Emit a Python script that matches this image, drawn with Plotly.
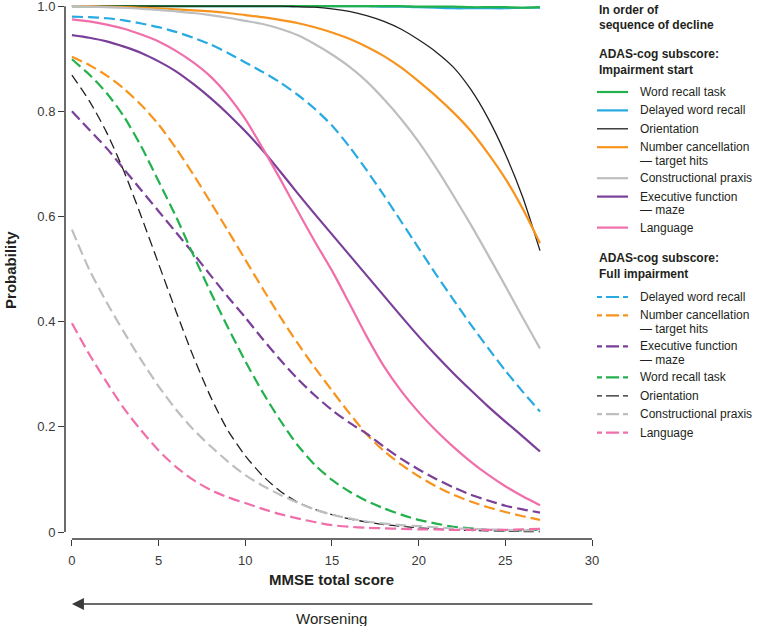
import plotly.graph_objects as go

# ---------------- data ----------------
mmse = list(range(28))  # MMSE total score 0..27

# ADAS-cog subscore: Impairment start (solid)
start_word_recall = [1.0]*20 + [0.999, 0.999, 0.999, 0.998, 0.998, 0.998, 0.997, 0.998]
start_delayed_recall = [1.0]*18 + [0.999, 0.999, 0.998, 0.997, 0.996, 0.996, 0.996, 0.996, 0.997, 0.997]
start_orientation = [1.0]*13 + [0.999, 0.998, 0.995, 0.99, 0.982, 0.971, 0.956, 0.936,
                                0.913, 0.884, 0.842, 0.787, 0.719, 0.637, 0.535]
start_number_cancel = [1.0, 1.0, 0.999, 0.998, 0.997, 0.996, 0.994, 0.992, 0.99, 0.987,
                       0.983, 0.979, 0.974, 0.968, 0.96, 0.95, 0.938, 0.923, 0.905, 0.883,
                       0.857, 0.829, 0.798, 0.763, 0.72, 0.672, 0.615, 0.549]
start_constructional = [1.0, 0.999, 0.998, 0.997, 0.995, 0.993, 0.99, 0.987, 0.983, 0.978,
                        0.972, 0.966, 0.957, 0.945, 0.928, 0.908, 0.885, 0.857, 0.823, 0.785,
                        0.742, 0.693, 0.64, 0.585, 0.527, 0.468, 0.408, 0.349]
start_executive = [0.945, 0.94, 0.933, 0.923, 0.911, 0.895, 0.876, 0.852, 0.825, 0.795,
                   0.762, 0.726, 0.686, 0.645, 0.605, 0.566, 0.527, 0.488, 0.449, 0.41,
                   0.372, 0.336, 0.302, 0.27, 0.239, 0.21, 0.182, 0.153]
start_language = [0.975, 0.971, 0.965, 0.957, 0.946, 0.933, 0.915, 0.893, 0.866, 0.83,
                  0.785, 0.73, 0.672, 0.612, 0.553, 0.497, 0.435, 0.372, 0.315, 0.268,
                  0.228, 0.193, 0.162, 0.134, 0.109, 0.087, 0.068, 0.051]

# ADAS-cog subscore: Full impairment (dashed)
full_delayed_recall = [0.98, 0.979, 0.977, 0.973, 0.967, 0.96, 0.951, 0.94, 0.927, 0.911,
                       0.893, 0.875, 0.855, 0.832, 0.805, 0.773, 0.733, 0.688, 0.64, 0.59,
                       0.54, 0.49, 0.442, 0.395, 0.35, 0.307, 0.267, 0.229]
full_number_cancel = [0.904, 0.888, 0.868, 0.843, 0.812, 0.775, 0.73, 0.68, 0.627, 0.573,
                      0.518, 0.463, 0.41, 0.36, 0.313, 0.269, 0.226, 0.186, 0.154, 0.128,
                      0.106, 0.087, 0.071, 0.058, 0.047, 0.038, 0.03, 0.023]
full_executive = [0.8, 0.765, 0.73, 0.69, 0.65, 0.61, 0.57, 0.53, 0.488, 0.447,
                  0.408, 0.367, 0.328, 0.292, 0.26, 0.232, 0.208, 0.187, 0.162, 0.139,
                  0.119, 0.101, 0.085, 0.071, 0.06, 0.05, 0.043, 0.037]
full_word_recall = [0.899, 0.87, 0.835, 0.79, 0.733, 0.667, 0.6, 0.527, 0.456, 0.389,
                    0.325, 0.266, 0.213, 0.166, 0.128, 0.099, 0.077, 0.059, 0.045, 0.033,
                    0.023, 0.016, 0.01, 0.007, 0.004, 0.003, 0.003, 0.005]
full_orientation = [0.869, 0.82, 0.76, 0.686, 0.6, 0.51, 0.42, 0.334, 0.257, 0.193,
                    0.145, 0.107, 0.078, 0.057, 0.043, 0.033, 0.025, 0.019, 0.014, 0.011,
                    0.008, 0.006, 0.004, 0.003, 0.002, 0.002, 0.001, 0.001]
full_constructional = [0.575, 0.499, 0.437, 0.38, 0.327, 0.277, 0.233, 0.195, 0.163, 0.134,
                       0.108, 0.088, 0.071, 0.056, 0.043, 0.033, 0.026, 0.02, 0.016, 0.013,
                       0.011, 0.009, 0.007, 0.006, 0.005, 0.004, 0.003, 0.003]
full_language = [0.397, 0.338, 0.285, 0.235, 0.193, 0.155, 0.124, 0.099, 0.08, 0.066,
                 0.055, 0.044, 0.034, 0.026, 0.019, 0.013, 0.01, 0.008, 0.007, 0.006,
                 0.005, 0.005, 0.004, 0.004, 0.004, 0.004, 0.005, 0.006]

x_tick_vals = [0, 5, 10, 15, 20, 25, 30]
y_tick_vals = [0, 0.2, 0.4, 0.6, 0.8, 1.0]
y_tick_text = ["0", "0.2", "0.4", "0.6", "0.8", "1.0"]

legend_title = ["In order of", "sequence of decline"]
group_titles = {"start": ["ADAS-cog subscore:", "Impairment start"],
                "full": ["ADAS-cog subscore:", "Full impairment"]}

GREEN = "#22b14c"
BLUE = "#27aae1"
BLACK = "#231f20"
ORANGE = "#f7941d"
GRAY = "#bcbec0"
PURPLE = "#7a3f98"
PINK = "#f06eaa"
TXT = "#231f20"
AX = "#3a3a3a"

# (label lines, values, color, group, dashed, width, legend rank); list order = drawing order
series = [
    (["Delayed word recall"], start_delayed_recall, BLUE, "start", False, 2.2, 2),
    (["Word recall task"], start_word_recall, GREEN, "start", False, 2.2, 1),
    (["Orientation"], start_orientation, BLACK, "start", False, 1.3, 3),
    (["Number cancellation", "— target hits"], start_number_cancel, ORANGE, "start", False, 2.2, 4),
    (["Constructional praxis"], start_constructional, GRAY, "start", False, 2.2, 5),
    (["Executive function", "— maze"], start_executive, PURPLE, "start", False, 2.2, 6),
    (["Language"], start_language, PINK, "start", False, 2.2, 7),
    (["Delayed word recall"], full_delayed_recall, BLUE, "full", True, 2.2, 8),
    (["Number cancellation", "— target hits"], full_number_cancel, ORANGE, "full", True, 2.2, 9),
    (["Executive function", "— maze"], full_executive, PURPLE, "full", True, 2.2, 10),
    (["Word recall task"], full_word_recall, GREEN, "full", True, 2.2, 11),
    (["Orientation"], full_orientation, BLACK, "full", True, 1.3, 12),
    (["Constructional praxis"], full_constructional, GRAY, "full", True, 2.2, 13),
    (["Language"], full_language, PINK, "full", True, 2.2, 14),
]

FONT = "Liberation Sans, Arial, Helvetica, sans-serif"

# plot-area geometry in pixels (used to place the hand-drawn legend)
W, H = 757, 626
ML, MR, MT, MB = 65, 165, 3, 87
PW, PH = W - ML - MR, H - MT - MB


def px_x(px):
    return (px - ML) / PW


def px_y(py):
    return (H - MB - py) / PH


fig = go.Figure()
for lines, vals, color, grp, dashed, width, rank in series:
    dash = ("10px,5px" if color == BLACK else "11px,5px") if dashed else "solid"
    fig.add_trace(go.Scatter(
        x=mmse, y=vals, mode="lines", name=" ".join(lines),
        line=dict(color=color, width=width, dash=dash, shape="spline", smoothing=0.7),
        showlegend=False, hoverinfo="x+y+name",
    ))

shapes = [
    dict(type="line", xref="x", yref="paper", x0=0, x1=30, y0=0, y1=0,
         line=dict(color=AX, width=1.5)),
    dict(type="line", xref="paper", yref="y", x0=0, x1=0, y0=0, y1=1.0,
         line=dict(color=AX, width=1.5)),
]
annotations = [
    dict(text="<b>Probability</b>", xref="paper", yref="paper", x=0, y=0.502,
         xshift=-54, textangle=-90, showarrow=False, font=dict(size=15, color=TXT),
         xanchor="center", yanchor="middle"),
    dict(text="<b>MMSE total score</b>", xref="x", yref="paper", x=15, y=0,
         yshift=-40, showarrow=False, font=dict(size=15, color=TXT),
         xanchor="center", yanchor="middle"),
    dict(text="Worsening", xref="x", yref="paper", x=15, y=0,
         yshift=-79, showarrow=False, font=dict(size=15, color=TXT),
         xanchor="center", yanchor="middle"),
    dict(text="", xref="x", yref="paper", x=0, y=0, yshift=-65,
         showarrow=True, axref="pixel", ayref="pixel", ax=522, ay=0,
         arrowhead=2, arrowsize=1.6, arrowwidth=1.5, arrowcolor=AX),
]

# ---------------- hand-drawn legend (real text) ----------------
LX_TITLE = 597
LX_SYM0, LX_SYM1 = 597, 628
LX_TEXT = 638


def add_text(txt, py, bold=False):
    annotations.append(dict(
        text=f"<b>{txt}</b>" if bold else txt, xref="paper", yref="paper",
        x=px_x(LX_TEXT if not bold else LX_TITLE), y=px_y(py),
        xanchor="left", yanchor="middle", showarrow=False,
        font=dict(size=12, color=TXT)))


add_text(legend_title[0], 10, bold=True)
add_text(legend_title[1], 25, bold=True)

group_layout = {"start": (54, 92), "full": (258, 297)}
for grp in ("start", "full"):
    title_y, item_y = group_layout[grp]
    add_text(group_titles[grp][0], title_y, bold=True)
    add_text(group_titles[grp][1], title_y + 16, bold=True)
    items = sorted([s for s in series if s[3] == grp], key=lambda s: s[6])
    for lines, vals, color, g, dashed, width, rank in items:
        sym_dash = ("5px,4px,13px,4px,5px,10px" if dashed else "solid")
        shapes.append(dict(
            type="line", xref="paper", yref="paper",
            x0=px_x(LX_SYM0), x1=px_x(LX_SYM1), y0=px_y(item_y), y1=px_y(item_y),
            line=dict(color=color, width=width, dash=sym_dash)))
        for k, ln in enumerate(lines):
            add_text(ln, item_y + 13.5 * k)
        item_y += 18.4 if len(lines) == 1 else 31

fig.update_layout(
    width=W, height=H,
    margin=dict(l=ML, r=MR, t=MT, b=MB),
    paper_bgcolor="white", plot_bgcolor="white",
    font=dict(family=FONT, color=TXT, size=12),
    showlegend=False,
    xaxis=dict(
        range=[-0.4, 30], tickmode="array", tickvals=x_tick_vals,
        ticks="outside", ticklen=6, tickwidth=1.3, tickcolor=AX,
        showline=False, showgrid=False, zeroline=False, automargin=False,
        tickfont=dict(size=13, color=AX), ticklabelstandoff=3,
    ),
    yaxis=dict(
        range=[-0.0133, 1.006], tickmode="array", tickvals=y_tick_vals, ticktext=y_tick_text,
        ticks="outside", ticklen=6, tickwidth=1.3, tickcolor=AX,
        showline=False, showgrid=False, zeroline=False, automargin=False,
        tickfont=dict(size=13, color=AX), ticklabeloverflow="allow",
    ),
    shapes=shapes,
    annotations=annotations,
)

fig.write_html(
    "out.html",
    config={"displayModeBar": False},
    post_script="document.body.style.margin='0px';document.body.style.padding='0px';",
)
